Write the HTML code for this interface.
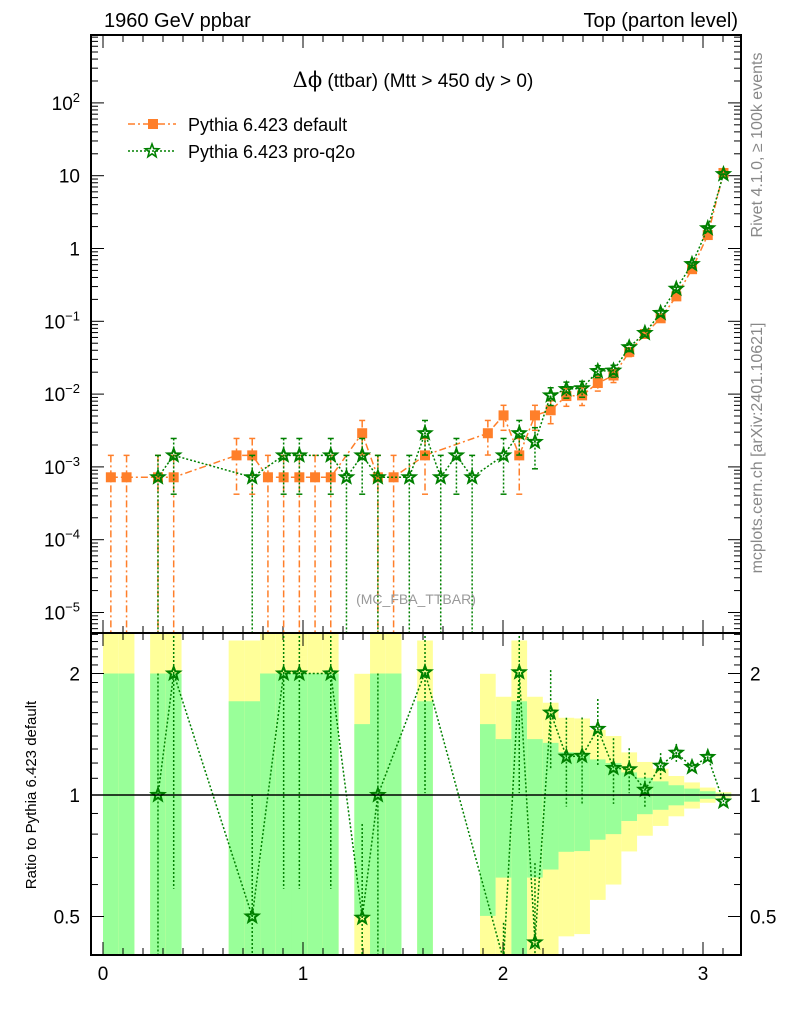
<!DOCTYPE html>
<html><head><meta charset="utf-8"><style>
html,body{margin:0;padding:0;background:#fff;overflow:hidden;width:786px;height:1024px;}
svg{display:block;font-family:"Liberation Sans",sans-serif;}
</style></head><body>
<svg id="c" width="786" height="1024" viewBox="0 0 786 1024" xmlns="http://www.w3.org/2000/svg">
<defs>
<clipPath id="clipMain"><rect x="91" y="35" width="650" height="598"/></clipPath>
<clipPath id="clipRatio"><rect x="91" y="633" width="650" height="322"/></clipPath>
</defs>
<g id="bands" clip-path="url(#clipRatio)"></g>
<g id="ticks"></g>
<g id="mainSeries" clip-path="url(#clipMain)"></g>
<g id="ratioSeries" clip-path="url(#clipRatio)"></g>
<line x1="91" y1="795" x2="741" y2="795" stroke="#000" stroke-width="1.5"/>
<rect x="91" y="35" width="650" height="598" fill="none" stroke="#000" stroke-width="2"/>
<rect x="91" y="633" width="650" height="322" fill="none" stroke="#000" stroke-width="2"/>
<text x="104" y="27" font-size="20">1960 GeV ppbar</text>
<text x="738" y="27" font-size="20" text-anchor="end">Top (parton level)</text>
<text x="413" y="87" font-size="19" text-anchor="middle"><tspan font-family="DejaVu Serif, serif" font-size="21">Δϕ</tspan> (ttbar) (Mtt &gt; 450 dy &gt; 0)</text>
<g>
<line x1="128" y1="124" x2="176" y2="124" stroke="#ff7f2a" stroke-width="1.5" stroke-dasharray="7,3,2,3"/>
<rect x="148" y="119" width="10" height="10" fill="#ff7f2a"/>
<text x="188" y="131" font-size="18">Pythia 6.423 default</text>
</g>
<g>
<line x1="128" y1="151" x2="176" y2="151" stroke="#008000" stroke-width="1.5" stroke-dasharray="2,2"/>
<polygon id="legStar" fill="none" stroke="#008000" stroke-width="1.6"/>
<text x="188" y="158" font-size="18">Pythia 6.423 pro-q2o</text>
</g>
<text x="416" y="604" font-size="14" fill="#999" text-anchor="middle">(MC_FBA_TTBAR)</text>
<text transform="translate(762,145) rotate(-90)" font-size="16" fill="#888" text-anchor="middle">Rivet 4.1.0, ≥ 100k events</text>
<text transform="translate(762,448) rotate(-90)" font-size="16" fill="#888" text-anchor="middle">mcplots.cern.ch [arXiv:2401.10621]</text>
<text transform="translate(36,795) rotate(-90)" font-size="15" text-anchor="middle">Ratio to Pythia 6.423 default</text>
</svg>
<script>
const binCount = 40;
const binWidth = Math.PI / 40;
const defaultVals = [7.2e-4,7.2e-4,null,7.2e-4,7.2e-4,null,null,null,1.44e-3,1.44e-3,7.2e-4,7.2e-4,7.2e-4,7.2e-4,7.2e-4,null,2.9e-3,7.2e-4,7.2e-4,null,1.44e-3,null,null,null,2.9e-3,5.1e-3,1.44e-3,5.1e-3,6.0e-3,9.4e-3,9.6e-3,0.0142,0.018,0.038,0.067,0.11,0.22,0.52,1.53,10.9];
const proVals = [null,null,null,7.2e-4,1.44e-3,null,null,null,null,7.2e-4,null,1.44e-3,1.44e-3,null,1.44e-3,7.2e-4,1.44e-3,7.2e-4,null,7.2e-4,2.9e-3,7.2e-4,1.44e-3,7.2e-4,null,1.44e-3,2.9e-3,2.2e-3,9.6e-3,0.0117,0.012,0.0207,0.021,0.044,0.069,0.13,0.28,0.61,1.9,10.5];
const unitWeight = 7.2e-4;
const xTickLabels = ["0","1","2","3"];
const yMainTickExps = [2,1,0,-1,-2,-3,-4,-5];
const ratioTickVals = [2,1,0.5];
const ratioTickLabels = ["2","1","0.5"];

const NS = "http://www.w3.org/2000/svg";
function X(v){ return 103 + v*200; }
function YM(v){ return Math.max(30, Math.min(640, 248.5 - Math.log10(v)*72.8)); }
function YR(r){ return Math.max(628, Math.min(960, 795 - Math.log2(r)*121.5)); }
function mk(tag, attrs, parent){ const e=document.createElementNS(NS,tag); for(const k in attrs) e.setAttribute(k,attrs[k]); parent.appendChild(e); return e; }
function starPts(cx,cy,R){ const r=R*0.42; let p=[]; for(let i=0;i<10;i++){ const a=-Math.PI/2+i*Math.PI/5; const rr=i%2?r:R; p.push((cx+rr*Math.cos(a)).toFixed(1)+","+(cy+rr*Math.sin(a)).toFixed(1)); } return p.join(" "); }
document.getElementById('legStar').setAttribute('points', starPts(152,151,7));

const ticks = document.getElementById('ticks');
for(let i=0;i<=31;i++){
  const v=i*0.1, x=X(v); if(x>741) break;
  const maj = i%10===0, L = maj?13:7;
  [[35,35+L],[633,633-L],[633,633+L],[955,955-L]].forEach(([a,b])=>mk('line',{x1:x,y1:a,x2:x,y2:b,stroke:'#000','stroke-width':1},ticks));
}
xTickLabels.forEach((t,i)=>{ const el=mk('text',{x:X(i),y:980,'font-size':19,'text-anchor':'middle'},ticks); el.textContent=t;

 });
for(let e=-6;e<=2;e++){
  for(let m=1;m<10;m++){
    const v=m*Math.pow(10,e), y=248.5 - Math.log10(v)*72.8; if(y<35||y>633) continue;
    const L = m===1?13:7;
    mk('line',{x1:91,y1:y,x2:91+L,y2:y,stroke:'#000','stroke-width':1},ticks);
    mk('line',{x1:741,y1:y,x2:741-L,y2:y,stroke:'#000','stroke-width':1},ticks);
  }
}
yMainTickExps.forEach(e=>{
  const el=mk('text',{x:80,y:YM(Math.pow(10,e))+7,'font-size':19,'text-anchor':'end'},ticks);
  if(e===1) el.textContent='10'; else if(e===0) el.textContent='1';
  else { el.textContent='10'; const ts=mk('tspan',{dy:-8,'font-size':13},el); ts.textContent=(e<0?'\u2212':'')+Math.abs(e); }
  
  
});
for(let k=3;k<=25;k++){
  const r=k/10, y=795 - Math.log2(r)*121.5; if(y<633||y>955) continue;
  const maj = (k===5||k===10||k===20); const L=maj?13:7;
  mk('line',{x1:91,y1:y,x2:91+L,y2:y,stroke:'#000','stroke-width':1},ticks);
  mk('line',{x1:741,y1:y,x2:741-L,y2:y,stroke:'#000','stroke-width':1},ticks);
}
ratioTickVals.forEach((r,i)=>{
  [[80,'end'],[750,'start']].forEach(([x,a])=>{
    const el=mk('text',{x:x,y:YR(r)+7,'font-size':19,'text-anchor':a},ticks); el.textContent=ratioTickLabels[i];
    
    
  });
});

const bands=document.getElementById('bands');
for(let i=0;i<binCount;i++){
  const v=defaultVals[i]; if(v==null) continue;
  const s=1/Math.sqrt(v/unitWeight);
  const x0=X(i*binWidth), x1=X((i+1)*binWidth);
  const yTop2=YR(1+2*s), yBot2=(1-2*s)>0?YR(1-2*s):960;
  const yTop1=YR(1+s), yBot1=(1-s)>0?YR(1-s):960;
  const b2=mk('rect',{x:x0,y:yTop2,width:x1-x0,height:yBot2-yTop2,fill:'#ffff99'},bands);
  
  
  const b1=mk('rect',{x:x0,y:yTop1,width:x1-x0,height:yBot1-yTop1,fill:'#99ff99'},bands);
  
  
}

function drawSeries(g, vals, color, dash, marker, yf, errf, name, caps, bottom){
  const pts=[];
  for(let i=0;i<binCount;i++){ const v=vals[i]; if(v==null) continue; pts.push([X((i+0.5)*binWidth), v, i]); }
  mk('polyline',{points:pts.map(p=>p[0]+","+yf(p[1])).join(" "),fill:'none',stroke:color,'stroke-width':1.5,'stroke-dasharray':dash},g);
  pts.forEach(p=>{
    const [x,v]=p; const e=errf(p);
    const yu=yf(v+e), yd=(v-e)>0?yf(v-e):bottom, y=yf(v);
    mk('line',{x1:x,y1:yu,x2:x,y2:yd,stroke:color,'stroke-width':1.5,'stroke-dasharray':dash},g);
    if(caps){
      mk('line',{x1:x-3,y1:yu,x2:x+3,y2:yu,stroke:color,'stroke-width':1.5},g);
      mk('line',{x1:x-3,y1:yd,x2:x+3,y2:yd,stroke:color,'stroke-width':1.5},g);
    }
    let m;
    if(marker==='sq') m=mk('rect',{x:x-5,y:y-5,width:10,height:10,fill:color},g);
    else m=mk('polygon',{points:starPts(x,y,6.5),fill:'none',stroke:color,'stroke-width':2},g);
    
    
  });
}
const mainG=document.getElementById('mainSeries');
drawSeries(mainG, defaultVals, '#ff7f2a', '7,3,2,3', 'sq', YM, p=>Math.sqrt(p[1]*unitWeight), 'point-default', true, 640);
drawSeries(mainG, proVals, '#008000', '2,2', 'star', YM, p=>Math.sqrt(p[1]*unitWeight), 'point-pro-q2o', true, 640);
const ratioVals = defaultVals.map((d,i)=> (d!=null && proVals[i]!=null) ? proVals[i]/d : null);
const ratioG=document.getElementById('ratioSeries');
drawSeries(ratioG, ratioVals, '#008000', '2,2', 'star', YR, p=>p[1]/Math.sqrt(proVals[p[2]]/unitWeight), 'ratio-point', false, 960);
</script>
</body></html>
